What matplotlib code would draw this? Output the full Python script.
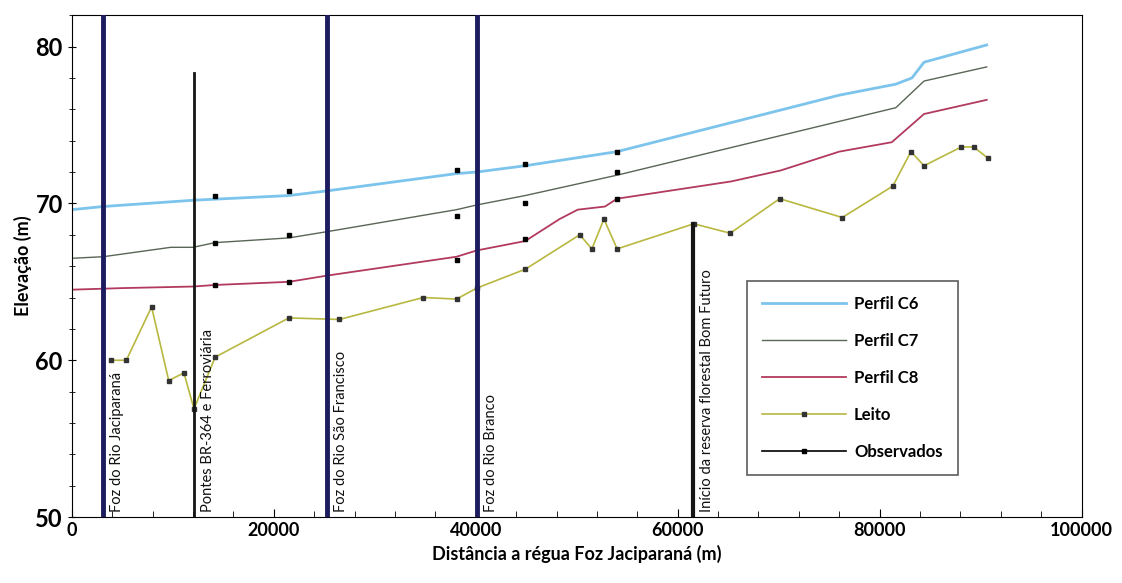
import matplotlib.pyplot as plt
from matplotlib.ticker import MultipleLocator

plt.rcParams['font.family'] = ['Lato', 'DejaVu Sans']

# perfis de linha d'água
dist_c6 = [0, 3100, 12000, 21500, 25300, 38100, 40100, 44900, 54000, 76000, 81600, 83200, 84400, 90600]
elev_c6 = [69.6, 69.8, 70.2, 70.5, 70.8, 71.9, 72.0, 72.4, 73.3, 76.9, 77.6, 78.0, 79.0, 80.1]

dist_c7 = [0, 3100, 9800, 12000, 14200, 21500, 25300, 38100, 40100, 44900, 54000, 81600, 84400, 90600]
elev_c7 = [66.5, 66.6, 67.2, 67.2, 67.5, 67.8, 68.2, 69.6, 69.9, 70.5, 71.8, 76.1, 77.8, 78.7]

dist_c8 = [0, 5000, 12000, 14200, 21500, 25300, 38100, 40100, 44900, 48300, 50100, 52800, 54000,
           65300, 70200, 76000, 81200, 84400, 90600]
elev_c8 = [64.5, 64.6, 64.7, 64.8, 65.0, 65.4, 66.6, 67.0, 67.6, 69.0, 69.6, 69.8, 70.3,
           71.4, 72.1, 73.3, 73.9, 75.7, 76.6]

# leito do rio
dist_leito = [3900, 5400, 7900, 9600, 11100, 12100, 14200, 21500, 26500, 34800, 38100, 40100, 44900,
              50300, 51500, 52700, 54000, 61600, 65200, 70100, 76300, 81300, 83100, 84400, 88100, 89300, 90700]
elev_leito = [60.0, 60.0, 63.4, 58.7, 59.2, 56.9, 60.2, 62.7, 62.6, 64.0, 63.9, 64.6, 65.8,
              68.0, 67.1, 69.0, 67.1, 68.7, 68.1, 70.3, 69.1, 71.1, 73.3, 72.4, 73.6, 73.6, 72.9]

# níveis observados
dist_obs = [14200, 14200, 14200, 21500, 21500, 21500, 38100, 38100, 38100, 44900, 44900, 44900, 54000, 54000, 54000]
elev_obs = [70.5, 67.5, 64.8, 70.8, 68.0, 65.0, 72.1, 69.2, 66.4, 72.5, 70.0, 67.7, 73.3, 72.0, 70.3]

# referências ao longo do rio
ref_x = [3100, 12100, 25300, 40100, 61500]
ref_top = [82, 78.3, 82, 82, 68.7]
ref_nomes = ["Foz do Rio Jaciparaná", "Pontes BR-364 e Ferroviária", "Foz do Rio São Francisco",
             "Foz do Rio Branco", "Início da reserva florestal Bom Futuro"]
ref_cor = ["#1c1c5e", "#151515", "#1c1c5e", "#1c1c5e", "#151515"]
ref_lw = [3.5, 2, 3.5, 3.5, 3]

fig = plt.figure(figsize=(11.22, 5.83), dpi=100)
ax = fig.add_axes([0.064, 0.113, 0.9, 0.861])

for x, top, nome, c, lw in zip(ref_x, ref_top, ref_nomes, ref_cor, ref_lw):
    ax.plot([x, x], [50, top], color=c, lw=lw, zorder=4)
    ax.text(x + 700, 50.3, nome, rotation=90, fontsize=10.5, ha='left', va='bottom',
            color='#111111', zorder=5)

ax.plot(dist_c6, elev_c6, color='#7cc4ec', lw=2, label='Perfil C6')
ax.plot(dist_c7, elev_c7, color='#5a6655', lw=1, label='Perfil C7')
ax.plot(dist_c8, elev_c8, color='#b23a5e', lw=1.3, label='Perfil C8')
ax.plot(dist_leito, elev_leito, color='#b8b840', lw=1.2, marker='s', ms=2.5,
        mfc='#333333', mec='#333333', label='Leito')
ax.plot(dist_obs, elev_obs, color='black', lw=0, marker='s', ms=3, label='Observados')

ax.set_xlim(0, 100000)
ax.set_ylim(50, 82)
ax.xaxis.set_major_locator(MultipleLocator(20000))
ax.xaxis.set_minor_locator(MultipleLocator(4000))
ax.yaxis.set_major_locator(MultipleLocator(10))
ax.yaxis.set_minor_locator(MultipleLocator(2))
ax.tick_params(axis='x', which='both', direction='in', labelsize=13)
ax.tick_params(axis='y', which='both', direction='inout', labelsize=17)
ax.tick_params(which='major', length=6)
ax.tick_params(which='minor', length=4)
for lab in ax.get_xticklabels() + ax.get_yticklabels():
    lab.set_fontweight('bold')

ax.set_xlabel("Distância a régua Foz Jaciparaná (m)", fontsize=13, fontweight='bold', labelpad=4)
ax.set_ylabel("Elevação (m)", fontsize=13, fontweight='bold', labelpad=2)

leg = ax.legend(loc='upper left', bbox_to_anchor=(0.669, 0.47), borderaxespad=0, frameon=True,
                fancybox=False, edgecolor='#333333', prop={'weight': 'bold', 'size': 12},
                handlelength=5.0, handletextpad=0.5, labelspacing=1.25, borderpad=0.9,
                numpoints=1)
leg.get_frame().set_linewidth(1.2)
leg.legend_handles[4].set_linewidth(1.2)

plt.savefig("out.png", dpi=100)
